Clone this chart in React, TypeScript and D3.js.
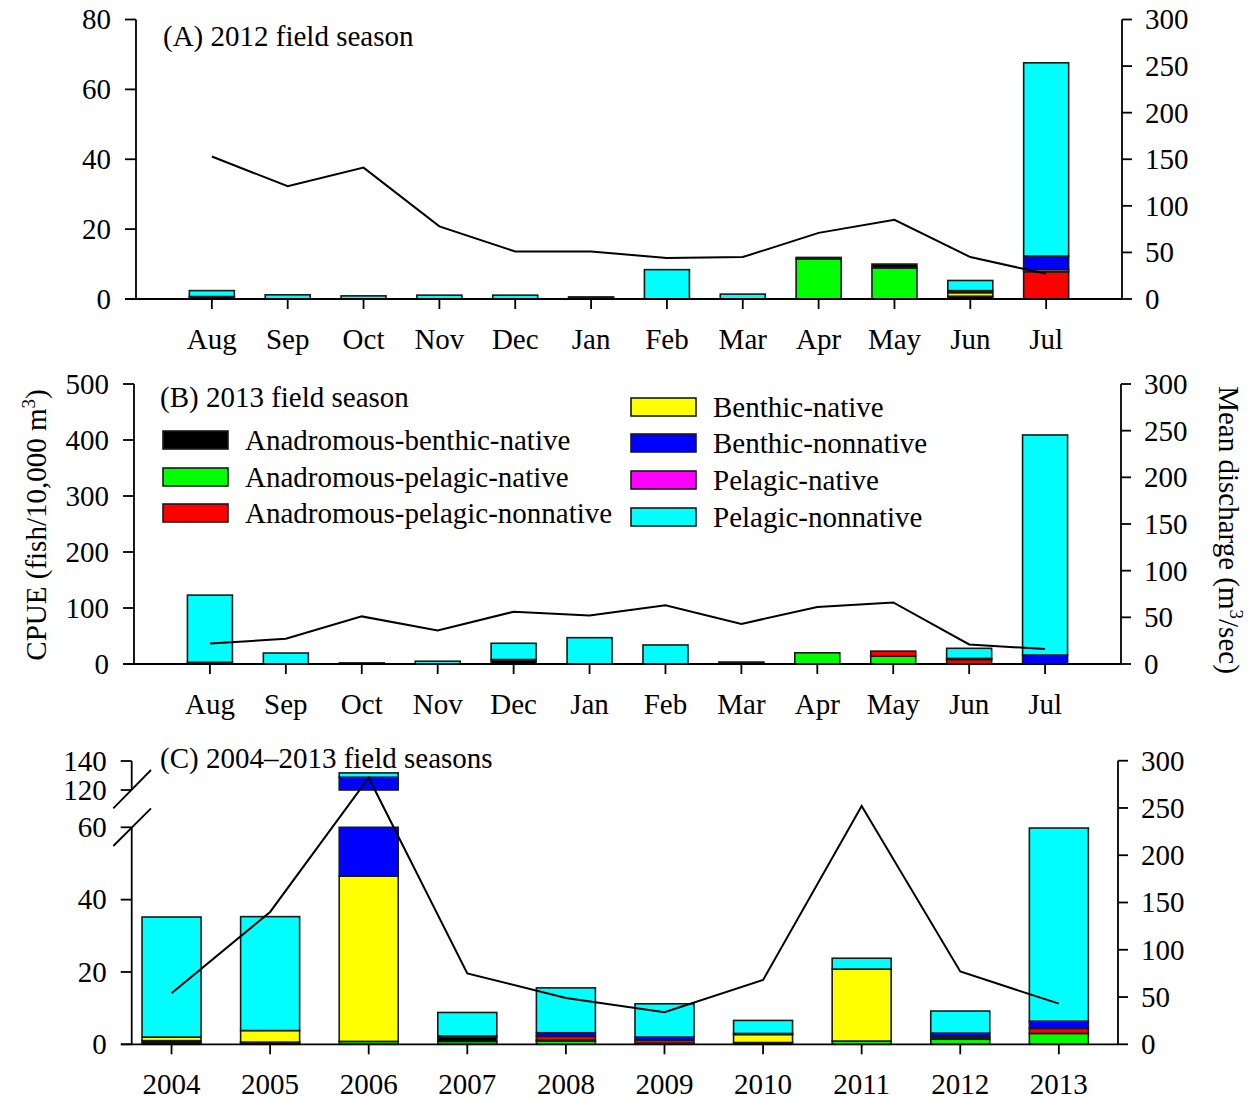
import React from 'react';
import * as d3 from 'd3';

const months = ['Aug', 'Sep', 'Oct', 'Nov', 'Dec', 'Jan', 'Feb', 'Mar', 'Apr', 'May', 'Jun', 'Jul'];
const years = ['2004', '2005', '2006', '2007', '2008', '2009', '2010', '2011', '2012', '2013'];

const groups = [
  'Anadromous-benthic-native',
  'Anadromous-pelagic-native',
  'Anadromous-pelagic-nonnative',
  'Benthic-native',
  'Benthic-nonnative',
  'Pelagic-native',
  'Pelagic-nonnative',
];
const groupColors = ['#000000', '#00ff00', '#ff0000', '#ffff00', '#0000ff', '#ff00ff', '#00ffff'];
// stacking order (bottom to top), as indices into groups
const stackOrder = [1, 0, 2, 3, 4, 5, 6];

// Panel A: 2012 field season (CPUE)
const aABN = [0.7, 0, 0, 0, 0, 0.2, 0, 0, 0.4, 1.1, 0.8, 0];
const aAPN = [0, 0, 0, 0, 0, 0, 0, 0, 11.5, 8.9, 0, 0];
const aAPNN = [0, 0, 0, 0, 0, 0, 0, 0, 0, 0, 0, 7.8];
const aBN = [0, 0, 0, 0, 0, 0, 0, 0, 0, 0, 1.0, 0.6];
const aBNN = [0, 0, 0, 0, 0, 0, 0, 0, 0, 0, 0.6, 3.9];
const aPN = [0, 0, 0, 0, 0, 0, 0, 0, 0, 0, 0, 0];
const aPNN = [1.7, 1.2, 0.9, 1.1, 1.1, 0.4, 8.4, 1.4, 0, 0, 2.9, 55.3];
const aDischarge = [153, 121, 141, 78, 51, 51, 44, 45, 71, 85, 45, 27];

// Panel B: 2013 field season
const bABN = [3, 0, 2, 0, 8, 0, 0, 3.5, 0, 0, 0, 0];
const bAPN = [0, 0, 0, 0, 0, 0, 0, 0, 20, 14, 0, 0];
const bAPNN = [0, 0, 0, 0, 0, 0, 0, 0, 0, 9, 8, 0];
const bBN = [0, 0, 0, 0, 0, 0, 0, 0, 0, 0, 0, 0];
const bBNN = [0, 0, 0, 0, 0, 0, 0, 0, 0, 0, 2, 16];
const bPN = [0, 0, 0, 0, 0, 0, 0, 0, 0, 0, 0, 0];
const bPNN = [120, 19.6, 0, 5, 29, 47, 34, 0, 0, 0, 18, 393];
const bDischarge = [22, 27, 51, 36, 56, 52, 63, 43, 61, 66, 21, 16];

// Panel C: 2004-2013 field seasons
const cABN = [0.7, 0.2, 0, 1.2, 0.3, 0.3, 0.5, 0, 0.4, 0];
const cAPN = [0.3, 0.4, 0.8, 0.8, 0.9, 0, 0, 0.9, 1.4, 3.0];
const cAPNN = [0, 0, 0, 0, 1.0, 0.9, 0, 0, 0.5, 1.4];
const cBN = [1.0, 3.2, 45.7, 0, 0, 0, 2.2, 19.9, 0, 0];
const cBNN = [0, 0, 82.3, 0.3, 1.0, 0.8, 0.3, 0, 0.8, 2.0];
const cPN = [0, 0, 0, 0, 0, 0, 0, 0, 0, 0];
const cPNN = [33.2, 31.5, 3.0, 6.5, 12.4, 9.2, 3.6, 3.0, 6.1, 53.4];
const cDischarge = [54, 140, 282, 75, 49, 34, 68, 252, 77, 43];

const leftTicksA = [0, 20, 40, 60, 80];
const leftTicksB = [0, 100, 200, 300, 400, 500];
const leftTicksCLow = [0, 20, 40, 60];
const leftTicksCHigh = [120, 140];
const rightTicks = [0, 50, 100, 150, 200, 250, 300];

const FONT = '"Liberation Serif", "Times New Roman", serif';
const FS = 29;

type Seg = { d0: number; d1: number; y: d3.ScaleLinear<number, number> };

function Bars({ series, x, bw, segs, n }: { series: number[][]; x: (i: number) => number; bw: number; segs: Seg[]; n: number }) {
  const rows = d3.range(n).map((i) => {
    const o: any = { i };
    groups.forEach((g, k) => (o[g] = series[k][i]));
    return o;
  });
  const keys = stackOrder.map((k) => groups[k]);
  const stacked = d3.stack<any>().keys(keys)(rows);
  const rects: JSX.Element[] = [];
  stacked.forEach((layer, li) => {
    const color = groupColors[stackOrder[li]];
    layer.forEach((d, i) => {
      const lo = d[0];
      const hi = d[1];
      if (hi - lo <= 0) return;
      segs.forEach((s, si) => {
        const a = Math.max(lo, s.d0);
        const b = Math.min(hi, s.d1);
        if (b > a) {
          rects.push(
            <rect
              key={`${li}-${i}-${si}`}
              x={x(i) - bw / 2}
              y={s.y(b)}
              width={bw}
              height={s.y(a) - s.y(b)}
              fill={color}
              stroke="#1a1a1a"
              strokeWidth={1.6}
            />
          );
        }
      });
    });
  });
  return <g>{rects}</g>;
}

function LeftAxis({ ax, y, ticks, y0, y1 }: { ax: number; y: (v: number) => number; ticks: number[]; y0: number; y1: number }) {
  return (
    <g>
      <line x1={ax} x2={ax} y1={y0} y2={y1} stroke="#000" strokeWidth={1.8} />
      {ticks.map((t) => (
        <g key={t}>
          <line x1={ax - 11} x2={ax} y1={y(t)} y2={y(t)} stroke="#000" strokeWidth={1.8} />
          <text x={ax - 25} y={y(t)} dy="0.34em" textAnchor="end" fontSize={FS} fontFamily={FONT}>
            {t}
          </text>
        </g>
      ))}
    </g>
  );
}

function RightAxis({ ax, y, ticks }: { ax: number; y: d3.ScaleLinear<number, number>; ticks: number[] }) {
  const [r0, r1] = y.range();
  return (
    <g>
      <line x1={ax} x2={ax} y1={r0} y2={r1} stroke="#000" strokeWidth={1.8} />
      {ticks.map((t) => (
        <g key={t}>
          <line x1={ax} x2={ax + 10} y1={y(t)} y2={y(t)} stroke="#000" strokeWidth={1.8} />
          <text x={ax + 23} y={y(t)} dy="0.34em" textAnchor="start" fontSize={FS} fontFamily={FONT}>
            {t}
          </text>
        </g>
      ))}
    </g>
  );
}

function XAxis({ x, cats, y0, xStart, xEnd, labelY }: { x: (i: number) => number; cats: string[]; y0: number; xStart: number; xEnd: number; labelY: number }) {
  return (
    <g>
      <line x1={xStart} x2={xEnd} y1={y0} y2={y0} stroke="#000" strokeWidth={1.8} />
      {cats.map((c, i) => (
        <g key={c}>
          <line x1={x(i)} x2={x(i)} y1={y0} y2={y0 + 10} stroke="#000" strokeWidth={1.8} />
          <text x={x(i)} y={labelY} textAnchor="middle" fontSize={FS} fontFamily={FONT}>
            {c}
          </text>
        </g>
      ))}
    </g>
  );
}

function DischargeLine({ vals, x, y }: { vals: number[]; x: (i: number) => number; y: d3.ScaleLinear<number, number> }) {
  const line = d3
    .line<number>()
    .x((_, i) => x(i))
    .y((d) => y(d));
  return <path d={line(vals) || ''} fill="none" stroke="#000" strokeWidth={2} />;
}

export default function App() {
  // Panel A
  const xA = d3.scaleLinear().domain([-1, 12]).range([136, 1122]);
  const yA = d3.scaleLinear().domain([0, 80]).range([299, 19.5]);
  const yAR = d3.scaleLinear().domain([0, 300]).range([299, 19.5]);
  const seriesA = [aABN, aAPN, aAPNN, aBN, aBNN, aPN, aPNN];

  // Panel B
  const xB = d3.scaleLinear().domain([-1, 12]).range([134, 1121]);
  const yB = d3.scaleLinear().domain([0, 500]).range([664, 384]);
  const yBR = d3.scaleLinear().domain([0, 300]).range([664, 384]);
  const seriesB = [bABN, bAPN, bAPNN, bBN, bBNN, bPN, bPNN];

  // Panel C
  const xC = d3.scaleLinear().domain([-0.404, 9.6]).range([131.7, 1118]);
  const yCLow = d3.scaleLinear().domain([0, 60]).range([1044.3, 827.3]);
  const yCHigh = d3.scaleLinear().domain([120, 140]).range([790, 761]);
  const yCR = d3.scaleLinear().domain([0, 300]).range([1044.3, 760.7]);
  const seriesC = [cABN, cAPN, cAPNN, cBN, cBNN, cPN, cPNN];

  const legendLeft = [0, 1, 2];
  const legendRight = [3, 4, 5, 6];
  const legendLeftY = [440, 477, 513];
  const legendRightY = [407, 443, 480, 517];

  return (
    <svg width={1252} height={1099} style={{ position: 'absolute', left: 0, top: 0, background: '#fff' }}>
      <rect x={0} y={0} width={1252} height={1099} fill="#fff" />

      {/* Panel A */}
      <Bars series={seriesA} x={xA} bw={45} segs={[{ d0: 0, d1: 80, y: yA }]} n={12} />
      <DischargeLine vals={aDischarge} x={xA} y={yAR} />
      <LeftAxis ax={136} y={yA} ticks={leftTicksA} y0={299} y1={19.5} />
      <RightAxis ax={1122} y={yAR} ticks={rightTicks} />
      <XAxis x={xA} cats={months} y0={299} xStart={125} xEnd={1122} labelY={349} />
      <text x={163} y={46} fontSize={FS} fontFamily={FONT}>(A) 2012 field season</text>

      {/* Panel B */}
      <Bars series={seriesB} x={xB} bw={45} segs={[{ d0: 0, d1: 500, y: yB }]} n={12} />
      <DischargeLine vals={bDischarge} x={xB} y={yBR} />
      <LeftAxis ax={134} y={yB} ticks={leftTicksB} y0={664} y1={384} />
      <RightAxis ax={1121} y={yBR} ticks={rightTicks} />
      <XAxis x={xB} cats={months} y0={664} xStart={123} xEnd={1121} labelY={714} />
      <text x={160} y={407} fontSize={FS} fontFamily={FONT}>(B) 2013 field season</text>

      {/* Legend */}
      {legendLeft.map((g, j) => (
        <g key={g}>
          <rect x={163} y={legendLeftY[j] - 9} width={65} height={18} fill={groupColors[g]} stroke="#1a1a1a" strokeWidth={1.6} />
          <text x={245} y={legendLeftY[j] + 9.5} fontSize={FS} fontFamily={FONT}>{groups[g]}</text>
        </g>
      ))}
      {legendRight.map((g, j) => (
        <g key={g}>
          <rect x={631} y={legendRightY[j] - 9} width={65} height={18} fill={groupColors[g]} stroke="#1a1a1a" strokeWidth={1.6} />
          <text x={713} y={legendRightY[j] + 9.5} fontSize={FS} fontFamily={FONT}>{groups[g]}</text>
        </g>
      ))}

      {/* Panel C */}
      <Bars
        series={seriesC}
        x={xC}
        bw={59}
        segs={[
          { d0: 0, d1: 60, y: yCLow },
          { d0: 120, d1: 140, y: yCHigh },
        ]}
        n={10}
      />
      <DischargeLine vals={cDischarge} x={xC} y={yCR} />
      <LeftAxis ax={131.7} y={yCLow} ticks={leftTicksCLow} y0={1044.3} y1={827.3} />
      <LeftAxis ax={131.7} y={yCHigh} ticks={leftTicksCHigh} y0={790} y1={761} />
      <line x1={113.3} y1={808.3} x2={151} y2={770} stroke="#000" strokeWidth={1.8} />
      <line x1={113.3} y1={846} x2={151} y2={808.3} stroke="#000" strokeWidth={1.8} />
      <RightAxis ax={1118} y={yCR} ticks={rightTicks} />
      <XAxis x={xC} cats={years} y0={1044.3} xStart={121} xEnd={1118} labelY={1094} />
      <text x={160} y={768} fontSize={FS} fontFamily={FONT}>(C) 2004–2013 field seasons</text>

      {/* Axis titles */}
      <text transform="translate(46,525) rotate(-90)" textAnchor="middle" fontSize={FS} fontFamily={FONT}>
        CPUE (fish/10,000 m<tspan dy="-11" fontSize={19}>3</tspan><tspan dy="11">)</tspan>
      </text>
      <text transform="translate(1219,530) rotate(90)" textAnchor="middle" fontSize={FS} fontFamily={FONT}>
        Mean discharge (m<tspan dy="-11" fontSize={19}>3</tspan><tspan dy="11">/sec)</tspan>
      </text>
    </svg>
  );
}
